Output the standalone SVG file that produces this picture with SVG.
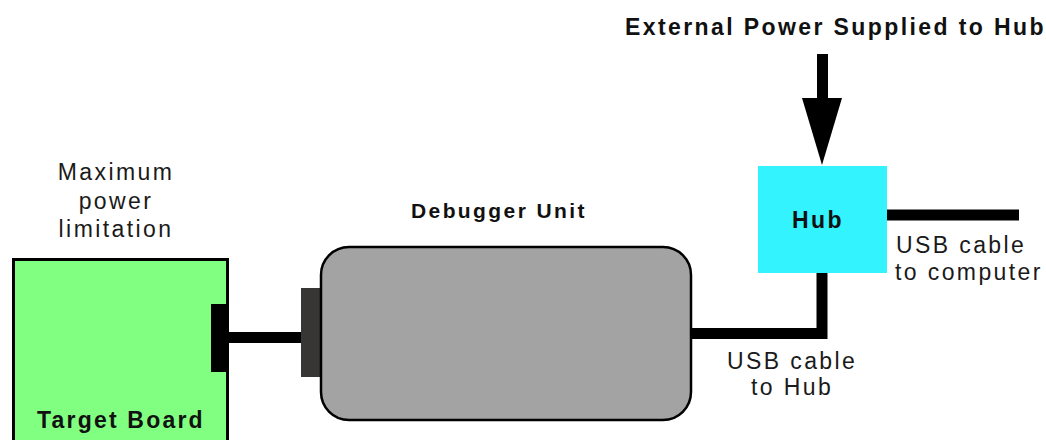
<svg xmlns="http://www.w3.org/2000/svg" width="1046" height="440" viewBox="0 0 1046 440">
  <style>
    .lbl { font-family: "Liberation Sans", Arial, sans-serif; font-size: 23px; letter-spacing: 2.4px; fill: #1a1a1a; }
    .bold { font-family: "Liberation Sans", Arial, sans-serif; font-weight: bold; fill: #111; }
    .wire { stroke: #000; stroke-width: 11; fill: none; stroke-linejoin: miter; stroke-linecap: butt; }
  </style>
  <rect width="1046" height="440" fill="#fff"/>

  <g id="title">
    <text class="bold" x="625" y="35" font-size="23" letter-spacing="2.4">External Power Supplied to Hub</text>
  </g>

  <g id="note-max-power">
    <text class="lbl" font-size="21" text-anchor="middle" x="116" y="180">Maximum</text>
    <text class="lbl" font-size="21" text-anchor="middle" x="116" y="208.5">power</text>
    <text class="lbl" font-size="21" text-anchor="middle" x="116" y="237">limitation</text>
  </g>

  <g id="connectors">
    <line class="wire" x1="229" y1="337.5" x2="302" y2="337.5"/>
    <polyline class="wire" points="691,333.5 822,333.5 822,272"/>
    <line class="wire" x1="886" y1="215" x2="1019" y2="215" stroke-width="12"/>
    <rect x="817" y="54" width="11" height="45" fill="#000"/>
    <polygon points="802,98 842,98 822,165" fill="#000"/>
  </g>

  <g id="target-board">
    <rect x="13.5" y="259.5" width="214" height="200" fill="#80FF80" stroke="#000" stroke-width="3"/>
    <rect x="211" y="304" width="18" height="68" fill="#000"/>
    <text class="bold" x="37" y="428" font-size="23" letter-spacing="2.2">Target Board</text>
  </g>

  <g id="debugger-unit">
    <rect x="301" y="288" width="21" height="89" fill="#383634"/>
    <rect x="321" y="247" width="370" height="173" rx="28" ry="28" fill="#A3A3A3" stroke="#000" stroke-width="2.5"/>
    <text class="bold" x="411" y="218" font-size="21" letter-spacing="2.4">Debugger Unit</text>
  </g>

  <g id="hub">
    <rect x="758" y="166" width="129" height="107" fill="#33F3FF"/>
    <text class="bold" x="792" y="228" font-size="23" letter-spacing="2.4">Hub</text>
  </g>

  <g id="label-usb-computer">
    <text class="lbl" x="896" y="253">USB cable</text>
    <text class="lbl" x="895" y="280">to computer</text>
  </g>

  <g id="label-usb-hub">
    <text class="lbl" x="727" y="369">USB cable</text>
    <text class="lbl" x="751" y="395">to Hub</text>
  </g>
</svg>
